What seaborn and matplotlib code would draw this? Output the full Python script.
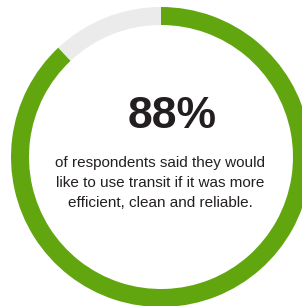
import matplotlib
matplotlib.use("Agg")
import matplotlib.pyplot as plt
import seaborn as sns

# share of respondents
labels = ["Would use transit", "Other"]
values = [88, 12]
colors = ["#62a60f", "#ebebeb"]
headline = "88%"
caption = "of respondents said they would\nlike to use transit if it was more\nefficient, clean and reliable."

sns.set_theme(style="white")

W, H = 302, 306
fig = plt.figure(figsize=(W / 100, H / 100), dpi=100)
fig.patch.set_facecolor("white")

# ring centred at (161, 157) px, outer radius 150 px
cx, cy, r = 161, 157, 150
ax = fig.add_axes([(cx - r) / W, (H - cy - r) / H, 2 * r / W, 2 * r / H])
ax.pie(values, colors=colors, startangle=90, counterclock=False,
       radius=1, wedgeprops=dict(width=0.12, linewidth=0))
ax.set_xlim(-1, 1)
ax.set_ylim(-1, 1)
ax.axis("off")

fig.text(172 / W, 1 - 116 / H, headline, ha="center", va="center",
         fontsize=32, fontweight="bold", color="#231f20",
         family=["Liberation Sans", "DejaVu Sans"])
fig.text(160 / W, 1 - 183 / H, caption, ha="center", va="center",
         fontsize=11, color="#231f20", linespacing=1.52,
         family=["Liberation Sans Narrow", "Liberation Sans", "DejaVu Sans"])

fig.savefig("out.png", dpi=100)
